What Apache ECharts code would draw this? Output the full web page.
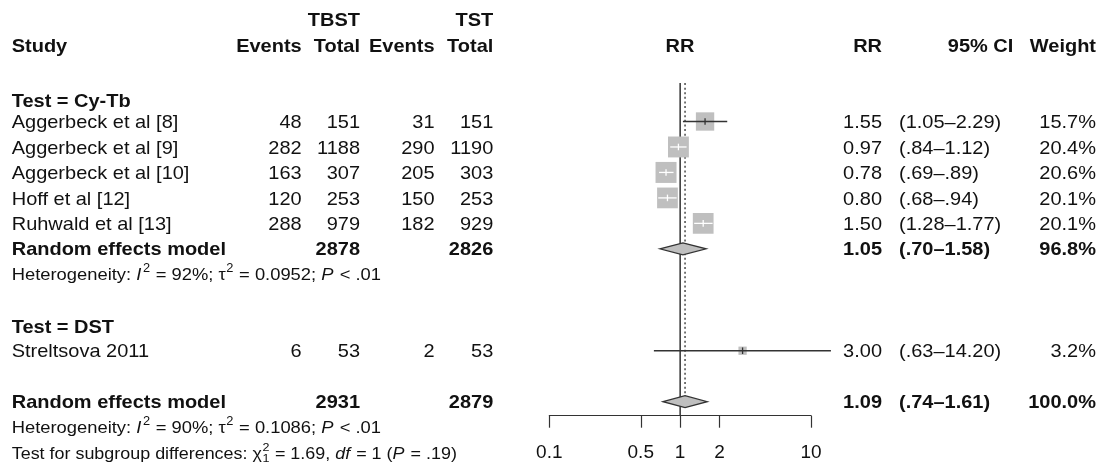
<!DOCTYPE html>
<html><head><meta charset="utf-8">
<script src="https://cdn.jsdelivr.net/npm/echarts@6/dist/echarts.min.js"></script>
<style>html,body{margin:0;padding:0;background:#fff}#c{width:1099px;height:467px}</style>
</head><body><div id="c"></div>
<script>
// ---------------- data ----------------
const group1Label = 'Test = Cy-Tb';
const group1Studies = ['Aggerbeck et al [8]', 'Aggerbeck et al [9]', 'Aggerbeck et al [10]', 'Hoff et al [12]', 'Ruhwald et al [13]'];
const group1TbstEvents = [48, 282, 163, 120, 288];
const group1TbstTotal = [151, 1188, 307, 253, 979];
const group1TstEvents = [31, 290, 205, 150, 182];
const group1TstTotal = [151, 1190, 303, 253, 929];
const group1RR = [1.55, 0.97, 0.78, 0.80, 1.50];
const group1Lo = [1.05, 0.84, 0.69, 0.68, 1.28];
const group1Hi = [2.29, 1.12, 0.89, 0.94, 1.77];
const group1Weight = [15.7, 20.4, 20.6, 20.1, 20.1];
const group1Model = { tbstTotal: 2878, tstTotal: 2826, rr: 1.05, lo: 0.70, hi: 1.58, weight: 96.8 };
const group1Het = { i2: '92%', tau2: '0.0952', p: '< .01' };

const group2Label = 'Test = DST';
const group2Studies = ['Streltsova 2011'];
const group2TbstEvents = [6];
const group2TbstTotal = [53];
const group2TstEvents = [2];
const group2TstTotal = [53];
const group2RR = [3.00];
const group2Lo = [0.63];
const group2Hi = [14.20];
const group2Weight = [3.2];

const overallModel = { tbstTotal: 2931, tstTotal: 2879, rr: 1.09, lo: 0.74, hi: 1.61, weight: 100.0 };
const overallHet = { i2: '90%', tau2: '0.1086', p: '< .01' };
const subgroupTest = { chi2: '1.69', df: '1', p: '.19' };

const tickValues = [0.1, 0.5, 1, 2, 10];
const tickLabels = ['0.1', '0.5', '1', '2', '10'];
const nullEffect = 1;

// ---------------- layout ----------------
const FONT = '"Liberation Sans", Arial, Helvetica, sans-serif';
const FS = 18.5, FSH = 17, FST = 16.6, SX = 1.08, TEXT_DY = 1.5;
const ROW0 = 121.5, ROWH = 25.47, AXIS_Y = 415.7;
const Y_MIN = -ROW0 / ROWH, Y_MAX = (AXIS_Y - ROW0) / ROWH;
const BOX = 21, DIA_H = 6;
const COL = { study: 11.7, e1: 301.7, t1: 360, e2: 434.5, t2: 493.3, plot: 680, rr: 882, ci: 899, ciHead: 1013.3, w: 1096 };

const rows = {
  top: -4, head: -3, g1: -0.84, g1s: 0, g1m: 5, g1h: 5.97,
  g2: 8.05, g2s: 9, om: 11, oh: 12, test: 13, lineTop: -1.51
};

const fmtRR = v => v.toFixed(2);
const fmtCI = v => (v < 1 ? v.toFixed(2).replace(/^0/, '') : v.toFixed(2));
const ciText = (lo, hi) => '(' + fmtCI(lo) + '\u2013' + fmtCI(hi) + ')';
const fmtW = v => v.toFixed(1) + '%';

const maxW = Math.max(...group1Weight, ...group2Weight);

const studyData = [];
group1RR.forEach((v, i) => studyData.push([v, rows.g1s + i, group1Lo[i], group1Hi[i], group1Weight[i]]));
group2RR.forEach((v, i) => studyData.push([v, rows.g2s + i, group2Lo[i], group2Hi[i], group2Weight[i]]));
const diamondData = [
  [group1Model.rr, rows.g1m, group1Model.lo, group1Model.hi],
  [overallModel.rr, rows.om, overallModel.lo, overallModel.hi]
];
const refData = [
  [nullEffect, rows.lineTop, Y_MAX, 0],
  [overallModel.rr, rows.lineTop, rows.om, 1]
];

const chart = echarts.init(document.getElementById('c'));

const option = {
  backgroundColor: '#fff',
  animation: false,
  grid: { left: 549.3, right: 1099 - 811, top: 0, height: AXIS_Y, outerBoundsMode: 'none' },
  xAxis: {
    type: 'log', logBase: 10, min: 0.1, max: 10,
    axisLine: { show: true, onZero: false, lineStyle: { color: '#333', width: 1.2 } },
    axisTick: { show: true, length: 12, customValues: tickValues, lineStyle: { color: '#333', width: 1.2 } },
    axisLabel: {
      customValues: tickValues,
      formatter: v => { const k = tickValues.findIndex(t => Math.abs(t - v) < 1e-9); return k >= 0 ? tickLabels[k] : ''; },
      fontSize: 19, fontFamily: FONT, color: '#111', margin: 28
    },
    splitLine: { show: false }, minorTick: { show: false }, minorSplitLine: { show: false }
  },
  yAxis: { type: 'value', inverse: true, min: Y_MIN, max: Y_MAX, show: false },
  series: [
    {
      type: 'custom', coordinateSystem: 'cartesian2d', clip: false, silent: true, z: 1,
      encode: { x: 0, y: 1 },
      data: refData,
      renderItem(params, api) {
        const a = api.coord([api.value(0), api.value(1)]);
        const b = api.coord([api.value(0), api.value(2)]);
        const dotted = api.value(3) === 1;
        return {
          type: 'line',
          shape: { x1: a[0], y1: a[1], x2: b[0], y2: b[1] },
          style: dotted ? { stroke: '#555', lineWidth: 1.6, lineDash: [2, 2.6] } : { stroke: '#333', lineWidth: 1.5 }
        };
      }
    },
    {
      type: 'custom', coordinateSystem: 'cartesian2d', clip: false, silent: true, z: 3,
      encode: { x: 0, y: 1 },
      data: studyData,
      renderItem(params, api) {
        const c = api.coord([api.value(0), api.value(1)]);
        const pl = api.coord([api.value(2), api.value(1)]);
        const ph = api.coord([api.value(3), api.value(1)]);
        const s = BOX * Math.sqrt(api.value(4) / maxW);
        const inside = pl[0] >= c[0] - s / 2 && ph[0] <= c[0] + s / 2;
        const lc = inside ? '#fff' : '#333';
        return {
          type: 'group', children: [
            { type: 'rect', shape: { x: c[0] - s / 2, y: c[1] - s / 2, width: s, height: s }, style: { fill: '#bfbfbf' } },
            { type: 'line', shape: { x1: pl[0], y1: c[1], x2: ph[0], y2: c[1] }, style: { stroke: lc, lineWidth: 1.3 } },
            { type: 'line', shape: { x1: c[0], y1: c[1] - 3.3, x2: c[0], y2: c[1] + 3.3 }, style: { stroke: lc, lineWidth: 1.3 } }
          ]
        };
      }
    },
    {
      type: 'custom', coordinateSystem: 'cartesian2d', clip: false, silent: true, z: 4,
      encode: { x: 0, y: 1 },
      data: diamondData,
      renderItem(params, api) {
        const c = api.coord([api.value(0), api.value(1)]);
        const pl = api.coord([api.value(2), api.value(1)]);
        const ph = api.coord([api.value(3), api.value(1)]);
        return {
          type: 'polygon',
          shape: { points: [[pl[0], c[1]], [c[0], c[1] - DIA_H], [ph[0], c[1]], [c[0], c[1] + DIA_H]] },
          style: { fill: '#bfbfbf', stroke: '#333', lineWidth: 1.3 }
        };
      }
    }
  ]
};
chart.setOption(option);

// ---------------- text table ----------------
const rowPx = r => chart.convertToPixel({ yAxisIndex: 0 }, r) + TEXT_DY;
const mctx = document.createElement('canvas').getContext('2d');
const mw = (s, font) => { mctx.font = font; return mctx.measureText(s).width; };
const fontStr = (size, bold, italic) => (italic ? 'italic ' : '') + (bold ? 'bold ' : '') + size + 'px ' + FONT;

function txt(s, x, row, align, bold, size) {
  return {
    type: 'text', x: x, y: rowPx(row), scaleX: SX, silent: true,
    style: { text: s, font: fontStr(size || FS, bold), align: align, verticalAlign: 'middle', fill: '#111' }
  };
}

function mathLine(segs, x, row, size) {
  let cx = 0; const ch = [];
  const small = size * 0.7;
  for (const [t, kind] of segs) {
    if (kind === 'supsub') {
      const f = fontStr(small);
      ch.push({ type: 'text', x: cx + 0.5, y: -size * 0.38, style: { text: t[0], font: f, align: 'left', verticalAlign: 'middle', fill: '#111' } });
      ch.push({ type: 'text', x: cx + 0.5, y: size * 0.3, style: { text: t[1], font: f, align: 'left', verticalAlign: 'middle', fill: '#111' } });
      cx += Math.max(mw(t[0], f), mw(t[1], f)) + 1;
    } else if (kind === 'sup') {
      const f = fontStr(small);
      ch.push({ type: 'text', x: cx + 0.5, y: -size * 0.38, style: { text: t, font: f, align: 'left', verticalAlign: 'middle', fill: '#111' } });
      cx += mw(t, f) + 1;
    } else {
      const f = fontStr(size, false, kind === 'i');
      ch.push({ type: 'text', x: cx, y: 0, style: { text: t, font: f, align: 'left', verticalAlign: 'middle', fill: '#111' } });
      cx += mw(t, f) + (kind === 'i' ? 1 : 0);
    }
  }
  return { type: 'group', x: x, y: rowPx(row), scaleX: SX, silent: true, children: ch };
}

const hetSegs = h => [
  ['Heterogeneity: ', 'n'], ['I', 'i'], ['2', 'sup'], [' = ' + h.i2 + '; ', 'n'],
  ['\u03C4', 'n'], ['2', 'sup'], [' = ' + h.tau2 + '; ', 'n'], ['P', 'i'], [' ' + h.p, 'n']
];

const els = [];
// headers
els.push(txt('TBST', COL.t1, rows.top, 'right', true));
els.push(txt('TST', COL.t2, rows.top, 'right', true));
els.push(txt('Study', COL.study, rows.head, 'left', true));
els.push(txt('Events', COL.e1, rows.head, 'right', true));
els.push(txt('Total', COL.t1, rows.head, 'right', true));
els.push(txt('Events', COL.e2, rows.head, 'right', true));
els.push(txt('Total', COL.t2, rows.head, 'right', true));
els.push(txt('RR', COL.plot, rows.head, 'center', true));
els.push(txt('RR', COL.rr, rows.head, 'right', true));
els.push(txt('95% CI', COL.ciHead, rows.head, 'right', true));
els.push(txt('Weight', COL.w, rows.head, 'right', true));

function studyRows(names, e1, t1, e2, t2, rr, lo, hi, w, startRow) {
  names.forEach((n, i) => {
    const r = startRow + i;
    els.push(txt(n, COL.study, r, 'left'));
    els.push(txt(String(e1[i]), COL.e1, r, 'right'));
    els.push(txt(String(t1[i]), COL.t1, r, 'right'));
    els.push(txt(String(e2[i]), COL.e2, r, 'right'));
    els.push(txt(String(t2[i]), COL.t2, r, 'right'));
    els.push(txt(fmtRR(rr[i]), COL.rr, r, 'right'));
    els.push(txt(ciText(lo[i], hi[i]), COL.ci, r, 'left'));
    els.push(txt(fmtW(w[i]), COL.w, r, 'right'));
  });
}
function modelRow(m, r) {
  els.push(txt('Random effects model', COL.study, r, 'left', true));
  els.push(txt(String(m.tbstTotal), COL.t1, r, 'right', true));
  els.push(txt(String(m.tstTotal), COL.t2, r, 'right', true));
  els.push(txt(fmtRR(m.rr), COL.rr, r, 'right', true));
  els.push(txt(ciText(m.lo, m.hi), COL.ci, r, 'left', true));
  els.push(txt(fmtW(m.weight), COL.w, r, 'right', true));
}

els.push(txt(group1Label, COL.study, rows.g1, 'left', true));
studyRows(group1Studies, group1TbstEvents, group1TbstTotal, group1TstEvents, group1TstTotal, group1RR, group1Lo, group1Hi, group1Weight, rows.g1s);
modelRow(group1Model, rows.g1m);
els.push(mathLine(hetSegs(group1Het), COL.study, rows.g1h, FSH));

els.push(txt(group2Label, COL.study, rows.g2, 'left', true));
studyRows(group2Studies, group2TbstEvents, group2TbstTotal, group2TstEvents, group2TstTotal, group2RR, group2Lo, group2Hi, group2Weight, rows.g2s);

modelRow(overallModel, rows.om);
els.push(mathLine(hetSegs(overallHet), COL.study, rows.oh, FSH));
els.push(mathLine([
  ['Test for subgroup differences: ', 'n'], ['\u03C7', 'n'], [['2', '1'], 'supsub'],
  [' = ' + subgroupTest.chi2 + ', ', 'n'], ['df', 'i'], [' = ' + subgroupTest.df + ' (', 'n'],
  ['P', 'i'], [' = ' + subgroupTest.p + ')', 'n']
], COL.study, rows.test, FST));

chart.setOption({ graphic: { elements: els } });
</script>
</body></html>
